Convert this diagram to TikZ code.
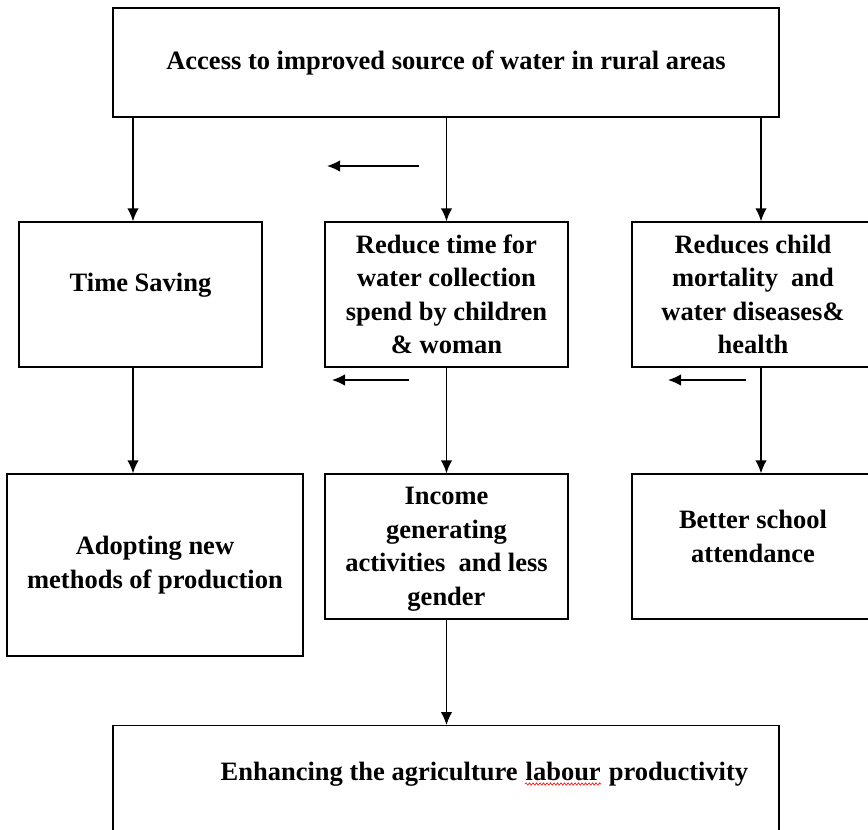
\documentclass[tikz,border=0pt]{standalone}
\usepackage{fontspec}
\setmainfont{Liberation Serif}
\usetikzlibrary{arrows.meta,positioning,calc,decorations.pathmorphing}

\begin{document}
\begin{tikzpicture}[x=1pt,y=-1pt,>={Latex[length=13pt,width=11.5pt]},line width=1.4pt,
every node/.style={font=\bfseries\fontsize{26.5}{33.5}\selectfont},
box/.style={draw,rectangle,align=center,inner sep=0pt,
minimum width=243pt,minimum height=145pt},
word/.style={anchor=base west,inner sep=0pt},
spellwave/.style={red,line width=0.6pt,decorate,
decoration={snake,amplitude=1.1pt,segment length=3.5pt}}]

\useasboundingbox (0,0) rectangle (868,830);

\node[box,minimum width=666pt,minimum height=109pt] (access) at (446,62.5)
  {Access to improved source of water in rural areas};

%second row
\node[box,text depth=24pt] (saving) at (140.5,294.5) {Time Saving};
\node[box] (reduce) at (446.5,294.5)
  {Reduce time for\\water collection\\spend by children\\\& woman};
\node[box,minimum width=242pt] (mortality) at (753,294.5)
  {Reduces child\\mortality\ \ and\\water diseases\&\\health};

%third row
\node[box,minimum width=296pt,minimum height=182pt] (adopting) at (155,565)
  {Adopting new\\methods of production};
\node[box,text depth=0pt] (income) at (446.5,546.5)
  {Income\\generating\\activities\ \ and less\\gender};
\node[box,minimum width=242pt,text depth=20pt] (school) at (753,546.5)
  {Better school\\attendance};

%last box
\node[box,minimum width=666pt,minimum height=160pt,anchor=north] (labour) at (446,725) {};
\node[word] (enhancing) at (220,780) {Enhancing the agriculture\ \ };
\node[word] (lab) at (enhancing.base east) {labour};
\node[word] (productivity) at (lab.base east) {\ productivity};
\draw[spellwave] ($(lab.base west)+(0,4)$) -- ($(lab.base east)+(0,4)$);

\coordinate (lcol) at (133,0);
\coordinate (rcol) at (761,0);

%arrows down
\draw[->] (access.south -| lcol) -- (saving.north -| lcol);
\draw[->] (access.south -| reduce.north) -- (reduce.north);
\draw[->] (access.south -| rcol) -- (mortality.north -| rcol);
\draw[->] (saving.south -| lcol) -- (adopting.north -| lcol);
\draw[->] (reduce.south) -- (income.north);
\draw[->] (mortality.south -| rcol) -- (school.north -| rcol);
\draw[->] (income.south) -- (labour.north -| income.south);

%arrows left
\draw[->] (419,166) -- (327,166);
\draw[->] (409,380) -- (332,380);
\draw[->] (746,380) -- (668,380);

\end{tikzpicture}
\end{document}
